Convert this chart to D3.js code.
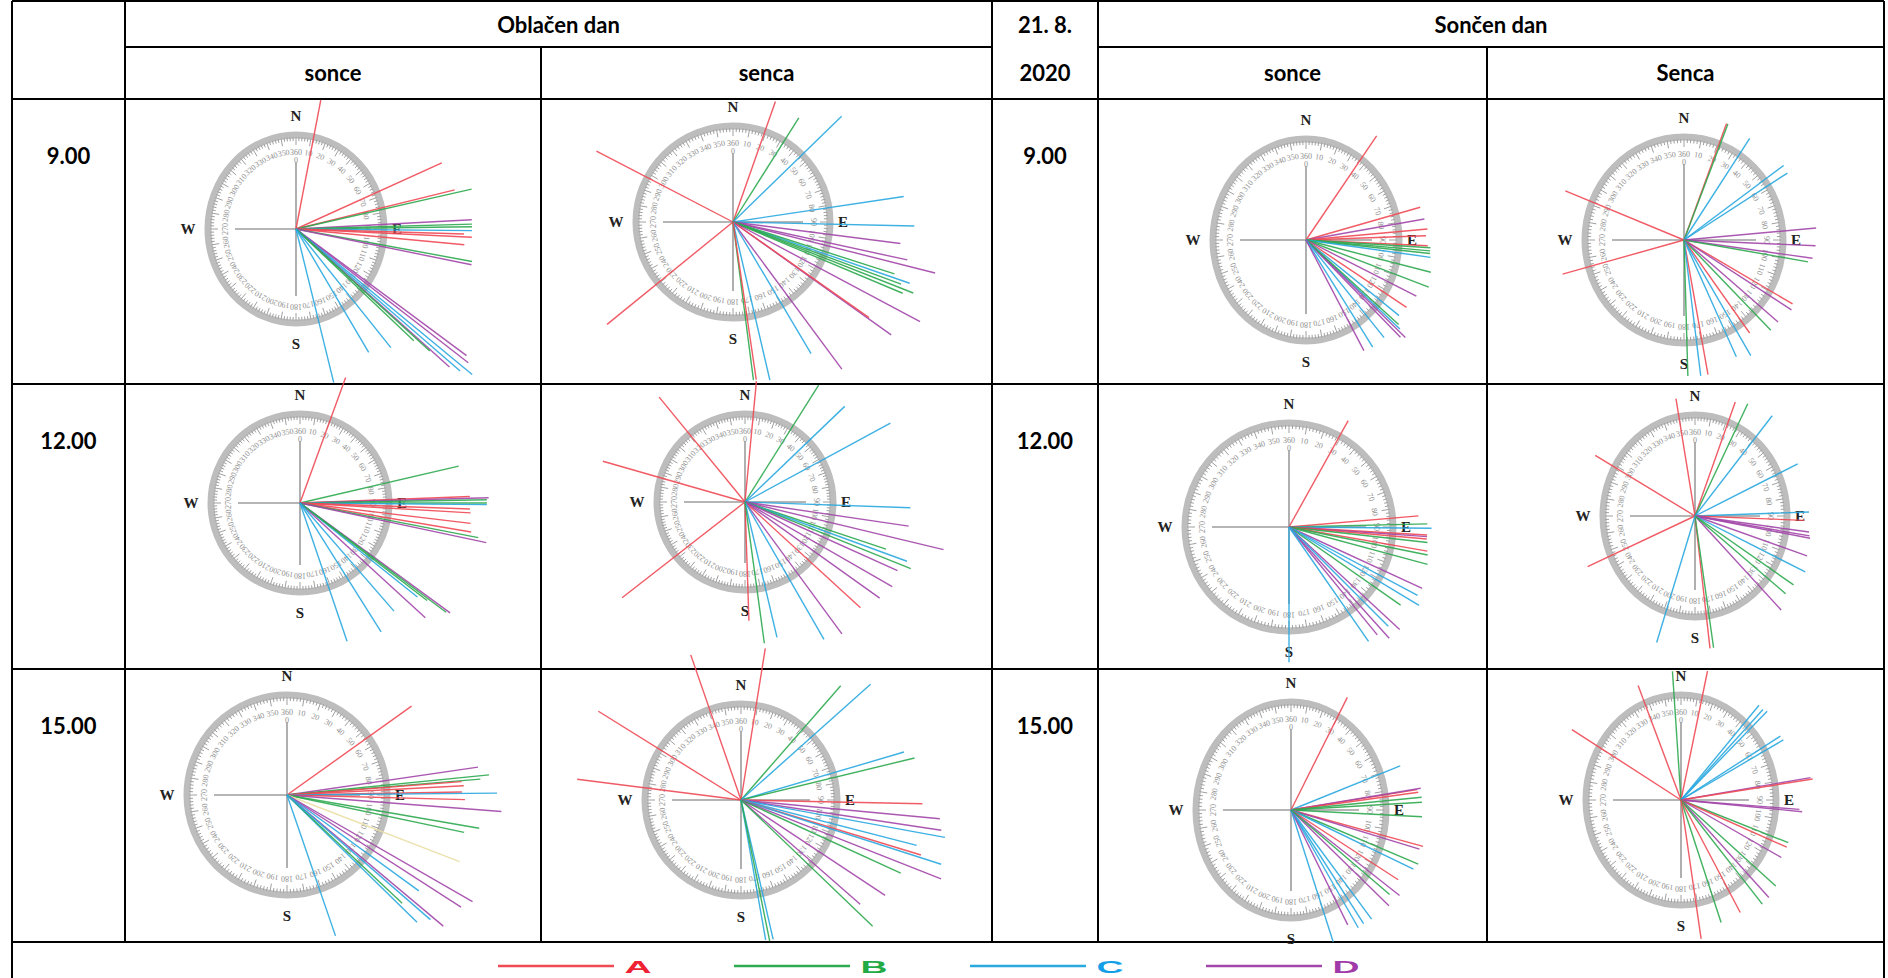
<!DOCTYPE html>
<html>
<head>
<meta charset="utf-8">
<script src="https://cdn.jsdelivr.net/npm/d3@7"></script>
<style>
  body { margin: 0; background: #fff; }
</style>
</head>
<body>
<div id="my_dataviz"></div>
<script>
// each line: [group, bearing in degrees (0 = N, clockwise), length relative to compass radius]
var oblacenSonce9 = [
  ["A", 11.6, 1.40], ["A", 67, 1.80], ["A", 77, 1.85], ["B", 78, 2.04], ["D", 87.2, 2.0],
  ["B", 88.5, 2.0], ["B", 89.3, 2.0], ["C", 90.5, 2.0], ["A", 91.6, 1.91], ["A", 92.5, 2.0],
  ["A", 95, 1.92], ["B", 99.8, 2.03], ["D", 100.8, 2.03], ["D", 124.8, 2.36], ["D", 126, 2.42],
  ["C", 127.7, 2.53], ["C", 129, 2.4], ["D", 130.1, 2.28], ["B", 131.6, 1.79], ["B", 130.5, 2.0],
  ["C", 139.5, 1.66], ["C", 147.8, 1.55], ["C", 165.3, 1.69]
];
var oblacenSenca9 = [
  ["A", 297.7, 1.59], ["A", 230.6, 1.68], ["A", 19.2, 1.33], ["B", 32, 1.28], ["C", 45.5, 1.57],
  ["C", 81.4, 1.78], ["C", 91.3, 1.87], ["D", 97.4, 1.74], ["D", 102.4, 1.84], ["D", 104.3, 2.15],
  ["C", 109.3, 1.93], ["B", 108, 1.75], ["B", 110.5, 1.85], ["B", 111.7, 2.0], ["B", 113, 1.9],
  ["D", 118.3, 2.19], ["D", 125.8, 2.01], ["A", 125.4, 1.72], ["D", 143.8, 1.9], ["C", 149.6, 1.59],
  ["C", 167, 1.69], ["B", 172.7, 1.66], ["A", 171.7, 1.66]
];
var soncenSonce9 = [
  ["A", 36.4, 1.28], ["A", 75.2, 1.27], ["D", 80.7, 1.29], ["A", 85.2, 1.31], ["A", 88.1, 1.29],
  ["A", 92.5, 1.31], ["B", 93.3, 1.34], ["B", 94.6, 1.34], ["B", 95.7, 1.34], ["C", 97.3, 1.35],
  ["B", 103.4, 1.38], ["B", 109.5, 1.40], ["D", 115.1, 1.31], ["A", 121.7, 1.27], ["C", 126.8, 1.25],
  ["C", 131.1, 1.34], ["D", 132.1, 1.44], ["D", 133.5, 1.40], ["B", 130, 1.30], ["C", 139, 1.28],
  ["C", 145.9, 1.28], ["D", 150.4, 1.26]
];
var soncenSenca9 = [
  ["A", 291.7, 1.29], ["A", 254.9, 1.27], ["A", 20.8, 1.21], ["B", 21.5, 1.21], ["C", 33.9, 1.19],
  ["C", 54.3, 1.24], ["C", 58.1, 1.23], ["D", 85, 1.34], ["D", 92.4, 1.33], ["D", 97.8, 1.31],
  ["B", 99.6, 1.27], ["A", 119.5, 1.26], ["D", 122, 1.28], ["D", 130, 1.24], ["B", 135, 1.24],
  ["A", 143.7, 1.12], ["C", 149, 1.31], ["C", 155, 1.25], ["A", 169.5, 1.33], ["C", 172.7, 1.33],
  ["B", 178.3, 1.32]
];
var oblacenSonce12 = [
  ["A", 20, 1.5], ["B", 76.9, 1.83], ["A", 87.8, 1.91], ["D", 88.4, 2.12], ["B", 89, 2.1],
  ["B", 90, 2.1], ["C", 90.5, 2.1], ["A", 92, 1.91], ["A", 93.3, 1.92], ["A", 96.8, 1.93],
  ["A", 99.6, 1.95], ["B", 101, 2.04], ["D", 102, 2.14], ["D", 126.2, 2.09], ["B", 126.8, 2.05],
  ["C", 128.7, 1.69], ["D", 132.5, 1.91], ["B", 127.5, 1.8], ["C", 139, 1.61], ["C", 147.8, 1.71],
  ["C", 161.2, 1.64]
];
var oblacenSenca12 = [
  ["A", 320.7, 1.54], ["A", 286, 1.68], ["A", 232.1, 1.77], ["A", 5.4, 1.38], ["A", 178.1, 1.35],
  ["B", 32.2, 1.57], ["C", 46.2, 1.57], ["C", 61.5, 1.88], ["C", 92, 1.88], ["D", 98.4, 1.88],
  ["D", 103.5, 2.32], ["B", 108.5, 1.69], ["C", 110.1, 1.96], ["B", 111.9, 2.03], ["D", 114.2, 1.9],
  ["D", 119.9, 1.93], ["D", 125.5, 1.88], ["A", 132.5, 1.78], ["D", 143.7, 1.86], ["C", 150.1, 1.8],
  ["C", 166.7, 1.58], ["B", 172.2, 1.62]
];
var soncenSonce12 = [
  ["A", 29.1, 1.17], ["A", 85.1, 1.25], ["B", 88.7, 1.33], ["C", 90.5, 1.37], ["A", 93.3, 1.33],
  ["D", 94, 1.33], ["A", 95, 1.33], ["B", 96.4, 1.34], ["A", 99.9, 1.35], ["B", 101.4, 1.36],
  ["B", 105.1, 1.38], ["D", 114.7, 1.41], ["C", 121.1, 1.46], ["C", 118, 1.4], ["B", 125, 1.31],
  ["D", 132.8, 1.45], ["D", 138, 1.44], ["D", 140.7, 1.34], ["C", 145.2, 1.34], ["C", 135, 1.35],
  ["C", 180, 1.30]
];
var soncenSenca12 = [
  ["A", 299, 1.24], ["A", 246.8, 1.27], ["A", 349.9, 1.18], ["A", 21.2, 1.21], ["B", 27.3, 1.25],
  ["C", 40.2, 1.3], ["C", 65.2, 1.23], ["C", 88.2, 1.24], ["A", 92.1, 1.19], ["D", 97.3, 1.25],
  ["D", 99, 1.26], ["D", 100, 1.27], ["D", 108, 1.28], ["C", 114.8, 1.32], ["B", 122.5, 1.27],
  ["D", 134.8, 1.32], ["B", 128, 1.25], ["A", 172.9, 1.32], ["B", 171.2, 1.32], ["C", 198.4, 1.32]
];
var oblacenSonce15 = [
  ["A", 54.5, 1.53], ["D", 81.7, 1.93], ["B", 84.3, 2.03], ["B", 85.3, 1.94], ["A", 85.6, 1.75],
  ["A", 87, 1.77], ["A", 89, 1.75], ["C", 89.5, 2.1], ["A", 91.5, 1.78], ["D", 94.4, 2.15],
  ["B", 99.8, 1.95], ["B", 101.9, 1.81], ["Y", 111.1, 1.85], ["D", 119.9, 2.14], ["D", 122.8, 2.07],
  ["C", 126, 1.63], ["D", 130, 2.04], ["C", 134.4, 1.82], ["B", 133.2, 1.58], ["C", 161, 1.49],
  ["C", 131, 1.9]
];
var oblacenSenca15 = [
  ["A", 301.9, 1.75], ["A", 277.2, 1.72], ["A", 340.9, 1.6], ["A", 9.1, 1.6], ["B", 41.1, 1.58],
  ["C", 48.2, 1.81], ["C", 73.6, 1.77], ["B", 76.4, 1.86], ["A", 91.2, 1.89], ["D", 95.4, 2.08],
  ["D", 98.6, 2.11], ["C", 100.4, 2.16], ["C", 104.5, 1.89], ["A", 107, 1.96], ["C", 107.8, 2.19],
  ["D", 111.5, 2.24], ["B", 114.6, 1.83], ["D", 123.5, 1.8], ["D", 131.2, 1.65], ["B", 133.8, 1.9],
  ["C", 167, 1.49], ["C", 170, 1.48], ["B", 168.5, 1.5]
];
var soncenSonce15 = [
  ["A", 29.6, 1.2], ["C", 70.4, 1.22], ["A", 81.9, 1.34], ["D", 81.6, 1.38], ["A", 83, 1.35],
  ["B", 85.1, 1.38], ["B", 87, 1.38], ["B", 92.6, 1.38], ["A", 103.6, 1.43], ["D", 105, 1.40],
  ["B", 110.5, 1.43], ["C", 113, 1.40], ["A", 119.8, 1.30], ["D", 124.7, 1.39], ["D", 130.7, 1.36],
  ["C", 140, 1.32], ["C", 144, 1.30], ["C", 147, 1.30], ["D", 150.7, 1.22], ["C", 160, 1.30],
  ["B", 127, 1.30]
];
var soncenSenca15 = [
  ["A", 300.3, 1.33], ["A", 337.5, 1.18], ["B", 355.8, 1.23], ["A", 12.8, 1.26], ["C", 42.3, 1.22],
  ["C", 45, 1.22], ["C", 47, 1.24], ["C", 59.8, 1.21], ["C", 62, 1.22], ["D", 81.1, 1.38],
  ["A", 81.8, 1.40], ["D", 94.1, 1.25], ["D", 95, 1.28], ["B", 109.8, 1.2], ["A", 112, 1.2],
  ["D", 117.4, 1.19], ["B", 129.4, 1.29], ["D", 135.1, 1.31], ["B", 139.2, 1.31], ["A", 149.8, 1.24],
  ["B", 160.1, 1.24], ["A", 170.9, 1.34]
];

var groups = ["A", "B", "C", "D"];
var times = ["9.00", "12.00", "15.00"];

// set the dimensions of the page
var width = 1888, height = 978;

var svg = d3.select("#my_dataviz")
  .append("svg")
    .attr("width", width)
    .attr("height", height);

// table grid
var colX = [12, 125, 541, 992, 1098, 1487, 1884];
var rowY = [1, 47, 99, 384, 669, 942];
var grid = svg.append("g").style("stroke", "#000").style("stroke-width", 2);

grid.append("line").attr("x1", colX[0]).attr("x2", colX[6]).attr("y1", rowY[0]).attr("y2", rowY[0]);
grid.append("line").attr("x1", colX[1]).attr("x2", colX[3]).attr("y1", rowY[1]).attr("y2", rowY[1]);
grid.append("line").attr("x1", colX[4]).attr("x2", colX[6]).attr("y1", rowY[1]).attr("y2", rowY[1]);
[2, 3, 4, 5].forEach(function(i) {
  grid.append("line").attr("x1", colX[0]).attr("x2", colX[6]).attr("y1", rowY[i]).attr("y2", rowY[i]);
});
[0, 6].forEach(function(i) {
  grid.append("line").attr("x1", colX[i]).attr("x2", colX[i]).attr("y1", rowY[0]).attr("y2", height);
});
[1, 3, 4].forEach(function(i) {
  grid.append("line").attr("x1", colX[i]).attr("x2", colX[i]).attr("y1", rowY[0]).attr("y2", rowY[5]);
});
[2, 5].forEach(function(i) {
  grid.append("line").attr("x1", colX[i]).attr("x2", colX[i]).attr("y1", rowY[1]).attr("y2", rowY[5]);
});

// header texts
var headerFont = "Lato, 'Open Sans', sans-serif";
function cellText(x, y, txt) {
  svg.append("text")
    .attr("x", x).attr("y", y)
    .attr("text-anchor", "middle")
    .attr("dominant-baseline", "central")
    .style("font-family", headerFont)
    .style("font-weight", "bold")
    .style("font-size", "22px")
    .style("fill", "#000")
    .text(txt);
}
cellText((colX[1] + colX[3]) / 2, 24, "Oblačen dan");
cellText((colX[4] + colX[6]) / 2, 24, "Sončen dan");
cellText((colX[3] + colX[4]) / 2, 24, "21. 8.");
cellText((colX[3] + colX[4]) / 2, 72, "2020");
cellText((colX[1] + colX[2]) / 2, 72, "sonce");
cellText((colX[2] + colX[3]) / 2, 72, "senca");
cellText((colX[4] + colX[5]) / 2, 72, "sonce");
cellText((colX[5] + colX[6]) / 2, 72, "Senca");
times.forEach(function(t, i) {
  cellText((colX[0] + colX[1]) / 2, rowY[i + 2] + 56, t);
  cellText((colX[3] + colX[4]) / 2, rowY[i + 2] + 56, t);
});

// compass panels (layout)
var panels = [
  {cx: 296, cy: 229, rx: 88, ry: 94, data: oblacenSonce9},
  {cx: 733, cy: 222, rx: 97, ry: 96, data: oblacenSenca9},
  {cx: 1306, cy: 240, rx: 93, ry: 101, data: soncenSonce9},
  {cx: 1684, cy: 240, rx: 99, ry: 103, data: soncenSenca9},
  {cx: 300, cy: 503, rx: 89, ry: 89, data: oblacenSonce12},
  {cx: 745, cy: 502, rx: 88, ry: 88, data: oblacenSenca12},
  {cx: 1289, cy: 527, rx: 104, ry: 104, data: soncenSonce12},
  {cx: 1695, cy: 516, rx: 92, ry: 101, data: soncenSenca12},
  {cx: 287, cy: 795, rx: 100, ry: 100, data: oblacenSonce15},
  {cx: 741, cy: 800, rx: 96, ry: 96, data: oblacenSenca15},
  {cx: 1291, cy: 810, rx: 95, ry: 108, data: soncenSonce15},
  {cx: 1681, cy: 800, rx: 95, ry: 105, data: soncenSenca15}
];

var color = d3.scaleOrdinal()
  .domain(["A", "B", "C", "D", "Y"])
  .range(["#f04a55", "#2eaa50", "#2aa9e0", "#a347aa", "#e9dfa6"]);

var angle = d3.scaleLinear().domain([0, 360]).range([0, 2 * Math.PI]);

var degs = d3.range(0, 360, 2);
var labels = d3.range(10, 360, 10);

panels.forEach(function(p) {
  var g = svg.append("g");
  var x = d3.scaleLinear().domain([-1, 1]).range([p.cx - p.rx, p.cx + p.rx]);
  var y = d3.scaleLinear().domain([-1, 1]).range([p.cy + p.ry, p.cy - p.ry]);
  // point on the ring, d pixels inside
  function px(a, d) { return p.cx + (p.rx - d) * Math.sin(angle(a)); }
  function py(a, d) { return p.cy - (p.ry - d) * Math.cos(angle(a)); }

  g.append("ellipse")
    .attr("cx", p.cx).attr("cy", p.cy).attr("rx", p.rx).attr("ry", p.ry)
    .style("fill", "none").style("stroke", "#bdbdbd").style("stroke-width", 7);

  g.selectAll(".tick").data(degs).enter().append("line")
    .attr("x1", function(a) { return px(a, 2); })
    .attr("y1", function(a) { return py(a, 2); })
    .attr("x2", function(a) { return px(a, a % 10 == 0 ? 10 : 6); })
    .attr("y2", function(a) { return py(a, a % 10 == 0 ? 10 : 6); })
    .style("stroke", "#a0a0a0").style("stroke-width", 1);

  g.selectAll(".num").data(labels.concat([360])).enter().append("text")
    .attr("transform", function(a) {
      return "translate(" + px(a, 17) + "," + py(a, 17) + ") rotate(" + (a % 360) + ")";
    })
    .attr("text-anchor", "middle")
    .attr("dominant-baseline", "central")
    .style("font-family", "'Liberation Serif', serif")
    .style("font-size", "8px")
    .style("fill", "#8e8e8e")
    .text(function(a) { return a; });
  g.append("text")
    .attr("x", px(0, 25)).attr("y", py(0, 25))
    .attr("text-anchor", "middle").attr("dominant-baseline", "central")
    .style("font-family", "'Liberation Serif', serif").style("font-size", "8px")
    .style("fill", "#8e8e8e").text("0");

  // cross
  g.append("line").attr("x1", p.cx).attr("x2", p.cx).attr("y1", p.cy - p.ry + 27).attr("y2", p.cy + p.ry - 27)
    .style("stroke", "#9c9c9c").style("stroke-width", 1.6);
  g.append("line").attr("y1", p.cy).attr("y2", p.cy).attr("x1", p.cx - p.rx + 27).attr("x2", p.cx + p.rx - 27)
    .style("stroke", "#9c9c9c").style("stroke-width", 1.6);

  var dirs = [["N", 0, -p.ry - 19], ["S", 0, p.ry + 21], ["W", -p.rx - 20, 0], ["E", p.rx + 13, 0]];
  g.selectAll(".dir").data(dirs).enter().append("text")
    .attr("x", function(d) { return p.cx + d[1]; })
    .attr("y", function(d) { return p.cy + d[2]; })
    .attr("text-anchor", "middle")
    .attr("dominant-baseline", "central")
    .style("font-family", "'Liberation Serif', serif")
    .style("font-weight", "bold")
    .style("font-size", "15px")
    .style("fill", "#222")
    .text(function(d) { return d[0]; });

  // the measured directions
  g.selectAll(".ray").data(p.data).enter().append("line")
    .attr("x1", x(0)).attr("y1", y(0))
    .attr("x2", function(d) { return x(d[2] * Math.sin(angle(d[1]))); })
    .attr("y2", function(d) { return y(d[2] * Math.cos(angle(d[1]))); })
    .style("stroke", function(d) { return color(d[0]); })
    .style("stroke-width", 1.4)
    .style("opacity", 0.9);
});

// legend
var legendX = d3.scalePoint().domain(groups).range([556, 1264]);
var legendLetter = d3.scaleOrdinal().domain(groups).range(["#ee2233", "#22aa44", "#11a0e8", "#a03aa8"]);
var lg = svg.append("g");
lg.selectAll(".lgline").data(groups).enter().append("line")
  .attr("x1", function(d) { return legendX(d) - 58; })
  .attr("x2", function(d) { return legendX(d) + 58; })
  .attr("y1", 966).attr("y2", 966)
  .style("stroke", function(d) { return color(d); })
  .style("stroke-width", 2.5);
lg.selectAll(".lgtext").data(groups).enter().append("text")
  .attr("transform", function(d) { return "translate(" + (legendX(d) + 82) + ",967) scale(2.2,1)"; })
  .attr("text-anchor", "middle")
  .attr("dominant-baseline", "central")
  .style("font-family", "'Liberation Sans', Arial, sans-serif")
  .style("font-weight", "bold")
  .style("font-size", "17px")
  .style("fill", function(d) { return legendLetter(d); })
  .text(function(d) { return d; });
</script>
</body>
</html>
